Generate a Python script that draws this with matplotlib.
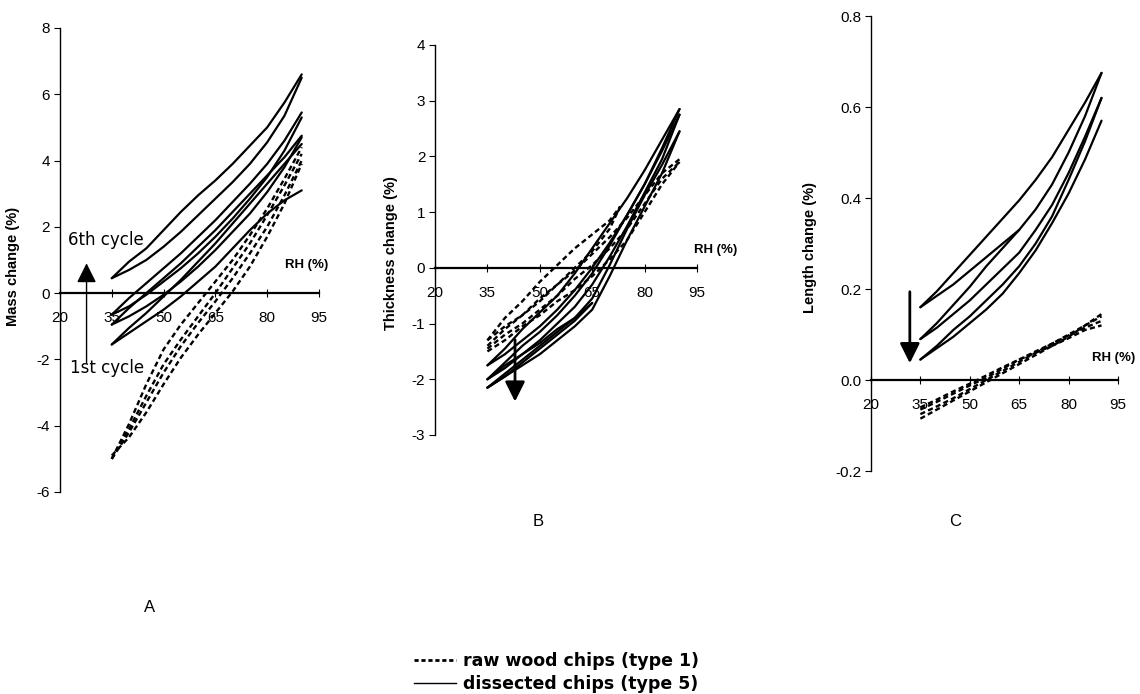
import numpy as np
import matplotlib.pyplot as plt
from matplotlib.lines import Line2D

plt.rcParams['font.family'] = ['Liberation Sans', 'DejaVu Sans']
plt.rcParams['axes.unicode_minus'] = False

# relative humidity steps (%)
rh = [35, 40, 45, 50, 55, 60, 65, 70, 75, 80, 85, 90]
rh_to65 = [35, 40, 45, 50, 55, 60, 65]
rh_to73 = [35, 40, 45, 50, 55, 60, 65, 70, 73]

# A - mass change (%)
mass_raw = [
    [-5.0, -3.95, -2.75, -1.7, -0.95, -0.3, 0.35, 1.0, 1.75, 2.55, 3.45, 4.4],
    [-5.0, -4.1, -3.1, -2.15, -1.4, -0.7, 0.0, 0.75, 1.5, 2.35, 3.25, 4.2],
    [-5.0, -4.2, -3.3, -2.4, -1.6, -0.9, -0.25, 0.45, 1.2, 2.0, 2.95, 4.0],
    [-4.9, -4.35, -3.6, -2.75, -1.95, -1.25, -0.6, 0.05, 0.8, 1.7, 2.7, 3.9],
]
mass_dissected = [
    [0.45, 0.95, 1.35, 1.9, 2.45, 2.95, 3.4, 3.9, 4.45, 5.0, 5.75, 6.6],
    [0.45, 0.7, 1.0, 1.4, 1.85, 2.35, 2.85, 3.35, 3.9, 4.55, 5.35, 6.5],
    [-0.65, -0.4, -0.05, 0.35, 0.75, 1.2, 1.7, 2.25, 2.85, 3.5, 4.3, 5.3],
    [-0.65, -0.15, 0.3, 0.75, 1.2, 1.7, 2.2, 2.75, 3.3, 3.9, 4.6, 5.45],
    [-0.95, -0.7, -0.4, -0.05, 0.35, 0.8, 1.3, 1.85, 2.4, 3.05, 3.8, 4.7],
    [-0.95, -0.45, 0.0, 0.45, 0.9, 1.4, 1.9, 2.45, 3.0, 3.55, 4.1, 4.75],
    [-1.55, -1.2, -0.85, -0.5, -0.1, 0.35, 0.8, 1.35, 1.9, 2.4, 2.8, 3.1],
    [-1.55, -1.05, -0.6, -0.1, 0.4, 0.95, 1.5, 2.1, 2.7, 3.3, 3.9, 4.5],
]

# B - thickness change (%)
thick_raw = [
    [-1.4, -1.1, -0.85, -0.6, -0.3, -0.05, 0.25, 0.55, 0.9, 1.3, 1.7, 1.95],
    [-1.45, -1.2, -1.0, -0.75, -0.5, -0.2, 0.05, 0.35, 0.7, 1.15, 1.6, 1.9],
    [-1.5, -1.3, -1.05, -0.85, -0.6, -0.4, -0.15, 0.15, 0.5, 1.0, 1.5, 1.9],
]
thick_raw_part = [
    [-1.3, -0.9, -0.6, -0.25, 0.05, 0.35, 0.6, 0.85, 1.1],
    [-1.3, -1.05, -0.85, -0.55, -0.3, 0.0, 0.3, 0.7, 1.1],
]
thick_dissected = [
    [-1.75, -1.45, -1.1, -0.8, -0.5, -0.1, 0.35, 0.8, 1.25, 1.75, 2.3, 2.85],
    [-1.75, -1.55, -1.3, -1.05, -0.75, -0.4, 0.0, 0.45, 0.95, 1.5, 2.15, 2.85],
    [-2.0, -1.7, -1.4, -1.15, -0.85, -0.5, -0.1, 0.4, 0.95, 1.5, 2.1, 2.75],
    [-2.0, -1.8, -1.55, -1.3, -1.0, -0.7, -0.3, 0.2, 0.75, 1.35, 1.95, 2.75],
    [-2.15, -1.9, -1.65, -1.4, -1.15, -0.9, -0.55, 0.05, 0.7, 1.3, 1.85, 2.45],
    [-2.15, -1.95, -1.75, -1.55, -1.3, -1.05, -0.75, -0.15, 0.5, 1.1, 1.7, 2.45],
]
thick_dissected_part = [
    [-2.0, -1.75, -1.55, -1.35, -1.1, -0.9, -0.63],
    [-2.15, -1.95, -1.7, -1.45, -1.2, -0.95, -0.63],
]

# C - length change (%)
length_raw = [
    [-0.085, -0.065, -0.045, -0.025, -0.005, 0.015, 0.035, 0.055, 0.075, 0.095, 0.12, 0.145],
    [-0.075, -0.058, -0.04, -0.02, 0.0, 0.02, 0.04, 0.06, 0.08, 0.1, 0.12, 0.14],
    [-0.065, -0.048, -0.03, -0.012, 0.005, 0.025, 0.045, 0.063, 0.08, 0.098, 0.115, 0.13],
    [-0.06, -0.043, -0.025, -0.008, 0.01, 0.028, 0.045, 0.06, 0.075, 0.092, 0.11, 0.12],
]
length_dissected = [
    [0.16, 0.195, 0.235, 0.275, 0.315, 0.355, 0.395, 0.44, 0.49, 0.55, 0.61, 0.675],
    [0.09, 0.125, 0.165, 0.205, 0.25, 0.29, 0.33, 0.375, 0.43, 0.5, 0.58, 0.675],
    [0.09, 0.115, 0.145, 0.175, 0.21, 0.245, 0.28, 0.33, 0.385, 0.455, 0.535, 0.62],
    [0.045, 0.075, 0.11, 0.14, 0.175, 0.21, 0.25, 0.3, 0.36, 0.44, 0.525, 0.62],
    [0.045, 0.07, 0.095, 0.125, 0.155, 0.19, 0.235, 0.285, 0.345, 0.41, 0.485, 0.57],
]
length_dissected_part = [
    [0.16, 0.185, 0.21, 0.24, 0.27, 0.3, 0.33],
]

xticks = [20, 35, 50, 65, 80, 95]
dash = (0, (2.2, 1.4))


def setup_axis(ax, ylim, yticks, ylabel, label_xy, rh_xy, fmt='%g'):
    ax.set_xlim(20, 95)
    ax.set_ylim(ylim)
    ax.spines['top'].set_visible(False)
    ax.spines['right'].set_visible(False)
    ax.spines['bottom'].set_position(('data', 0))
    ax.spines['left'].set_linewidth(1.0)
    ax.spines['bottom'].set_linewidth(1.6)
    ax.set_xticks(xticks)
    ax.set_yticks(yticks)
    ax.set_yticklabels([fmt % v for v in yticks])
    ax.tick_params(axis='x', direction='inout', length=6, pad=10, labelsize=11)
    ax.tick_params(axis='y', direction='out', length=4, pad=3, labelsize=11)
    ax.set_ylabel(ylabel, fontweight='bold', fontsize=10.5)
    ax.yaxis.set_label_coords(*label_xy)
    ax.text(rh_xy[0], rh_xy[1], 'RH (%)', fontweight='bold', fontsize=9.5,
            ha='center', va='center', clip_on=False)
    ax.patch.set_visible(False)


def draw(ax, x, series, ls, lw):
    for y in series:
        ax.plot(x, y, color='black', linestyle=ls, linewidth=lw,
                solid_capstyle='round', solid_joinstyle='round', clip_on=False)


def arrow(ax, start, tip, lw):
    ax.annotate('', xy=tip, xytext=start,
                arrowprops=dict(arrowstyle='-|>,head_width=0.3,head_length=0.6',
                                color='black', lw=lw, mutation_scale=20,
                                shrinkA=0, shrinkB=0))


fig = plt.figure(figsize=(11.4, 6.94), dpi=100)
axA = fig.add_axes([0.0526, 0.2911, 0.2272, 0.6686])
axB = fig.add_axes([0.3816, 0.3732, 0.2298, 0.5620])
axC = fig.add_axes([0.7640, 0.3213, 0.2167, 0.6556])

# A
draw(axA, rh, mass_raw, dash, 1.7)
draw(axA, rh, mass_dissected, '-', 1.6)
setup_axis(axA, (-6, 8), list(range(-6, 9, 2)), 'Mass change (%)',
           (-0.154, 0.485), (91.5, 0.85))
arrow(axA, (27.7, -2.1), (27.7, 0.9), 1.0)
axA.text(22.3, 1.6, '6th cycle', fontsize=12, va='center', family='DejaVu Sans')
axA.text(22.9, -2.27, '1st cycle', fontsize=12, va='center', family='DejaVu Sans')

# B
draw(axB, rh, thick_raw, dash, 1.7)
draw(axB, rh_to73, thick_raw_part, dash, 1.7)
draw(axB, rh, thick_dissected, '-', 1.6)
draw(axB, rh_to65, thick_dissected_part, '-', 1.6)
setup_axis(axB, (-3, 4), list(range(-3, 5)), 'Thickness change (%)',
           (-0.141, 0.467), (100.2, 0.32))
arrow(axB, (42.9, -1.29), (42.9, -2.4), 2.0)

# C
draw(axC, rh, length_raw, dash, 1.7)
draw(axC, rh, length_dissected, '-', 1.6)
draw(axC, rh_to65, length_dissected_part, '-', 1.6)
setup_axis(axC, (-0.2, 0.8), [-0.2, 0.0, 0.2, 0.4, 0.6, 0.8], 'Length change (%)',
           (-0.219, 0.492), (93.6, 0.048), fmt='%.1f')
arrow(axC, (31.8, 0.194), (31.8, 0.037), 2.0)

# panel letters
fig.text(150 / 1140, 1 - 607 / 694, 'A', fontsize=12, ha='center', va='center')
fig.text(538 / 1140, 1 - 522 / 694, 'B', fontsize=12, ha='center', va='center')
fig.text(955 / 1140, 1 - 522 / 694, 'C', fontsize=12, ha='center', va='center')

handles = [Line2D([], [], color='black', linestyle=(0, (1.5, 1.0)), lw=2.0),
           Line2D([], [], color='black', linestyle='-', lw=1.0)]
fig.legend(handles, ['raw wood chips (type 1)', 'dissected chips (type 5)'],
           loc='center', bbox_to_anchor=(0.488, 0.031), frameon=False,
           prop={'weight': 'bold', 'size': 12.5, 'family': 'DejaVu Sans'},
           handlelength=2.4, handletextpad=0.4, labelspacing=0.3, borderpad=0)

fig.savefig('out.png', dpi=100)
